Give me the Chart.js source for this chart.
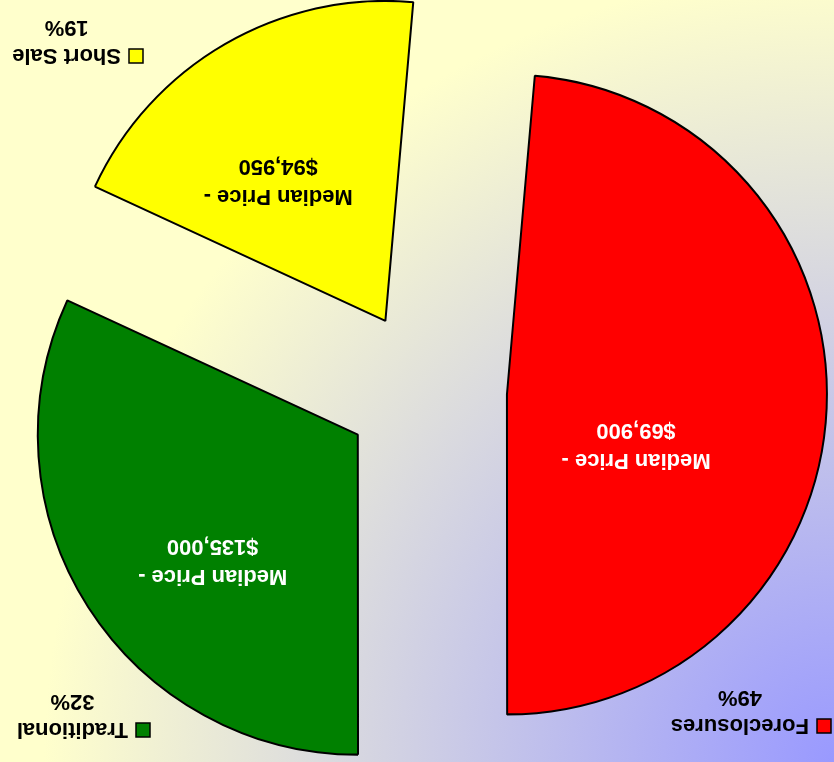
<!DOCTYPE html>
<html>
<head>
<meta charset="utf-8">
<script src="https://cdn.jsdelivr.net/npm/chart.js@4"></script>
<style>
  html, body { margin: 0; padding: 0; overflow: hidden; }
  body {
    width: 834px; height: 762px;
    background: radial-gradient(circle 790px at 100% 100%, #9999ff 0%, #ffffcc 100%);
  }
  /* the reference is shown upside down, so the whole canvas is turned */
  #pie { display: block; transform: rotate(180deg); }
</style>
</head>
<body>
<canvas id="pie" width="834" height="762"></canvas>
<script>
// data
const categories = ['Foreclosures', 'Traditional', 'Short Sale'];
const shares = [48.6, 31.9, 19.5];
const shareLabels = ['49%', '32%', '19%'];
const medianPrices = ['$69,900', '$135,000', '$94,950'];

const sliceColors = ['#ff0000', '#008000', '#ffff00'];
const innerTextColors = ['#ffffff', '#ffffff', '#000000'];
const FONT = 'bold 22px "Liberation Sans", Arial, sans-serif';
const EXPLODE = 81;

// inner label spot: degrees from the slice bisector, distance from pie centre
const innerSpots = [{ da: 12, r: 217 }, { da: -6, r: 273 }, { da: -5, r: 257 }];
// outer category labels: square left/top
const outerSpots = [{ x: 3, y: 29 }, { x: 684, y: 25 }, { x: 691, y: 699 }];

// pull every slice out by the same distance without changing its radius
// (Chart.js's own offset also grows the radius, differently for each slice)
const explodePlugin = {
    id: 'explode',
    beforeDatasetDraw(chart, args) {
        const ctx = chart.ctx;
        args.meta.data.forEach(arc => {
            const mid = (arc.startAngle + arc.endAngle) / 2;
            ctx.save();
            ctx.translate(Math.cos(mid) * EXPLODE, Math.sin(mid) * EXPLODE);
            arc.draw(ctx);
            ctx.restore();
        });
        return false;
    }
};

const labelPlugin = {
    id: 'sliceLabels',
    afterDraw(chart) {
        const ctx = chart.ctx;
        const arcs = chart.getDatasetMeta(0).data;
        ctx.save();
        ctx.font = FONT;
        ctx.textAlign = 'center';
        ctx.textBaseline = 'middle';

        arcs.forEach((arc, i) => {
            const p = arc.getProps(['x', 'y', 'startAngle', 'endAngle']);
            const ang = (p.startAngle + p.endAngle) / 2 + innerSpots[i].da * Math.PI / 180;
            const cx = p.x + innerSpots[i].r * Math.cos(ang);
            const cy = p.y + innerSpots[i].r * Math.sin(ang);
            ctx.fillStyle = innerTextColors[i];
            ctx.fillText('Median Price -', cx, cy - 15);
            ctx.fillText(medianPrices[i], cx, cy + 15);
        });

        // category + percent labels with a colour key
        categories.forEach((name, i) => {
            const s = outerSpots[i];
            ctx.fillStyle = sliceColors[i];
            ctx.fillRect(s.x, s.y, 14, 14);
            ctx.lineWidth = 1.5;
            ctx.strokeStyle = '#000';
            ctx.strokeRect(s.x, s.y, 14, 14);
            const w = ctx.measureText(name).width;
            const tx = s.x + 22;
            ctx.fillStyle = '#000';
            ctx.textAlign = 'left';
            ctx.fillText(name, tx, s.y + 8);
            ctx.textAlign = 'center';
            ctx.fillText(shareLabels[i], tx + w / 2, s.y + 36);
        });
        ctx.restore();
    }
};

new Chart(document.getElementById('pie'), {
    type: 'pie',
    data: {
        labels: categories,
        datasets: [{
            data: shares,
            backgroundColor: sliceColors,
            borderColor: '#000000',
            borderWidth: 2
        }]
    },
    options: {
        responsive: false,
        animation: false,
        rotation: 185,
        radius: 320,
        layout: { padding: { left: 0, top: 0, right: 18, bottom: 20 } },
        plugins: {
            legend: { display: false },
            tooltip: { enabled: false }
        }
    },
    plugins: [explodePlugin, labelPlugin]
});
</script>
</body>
</html>
